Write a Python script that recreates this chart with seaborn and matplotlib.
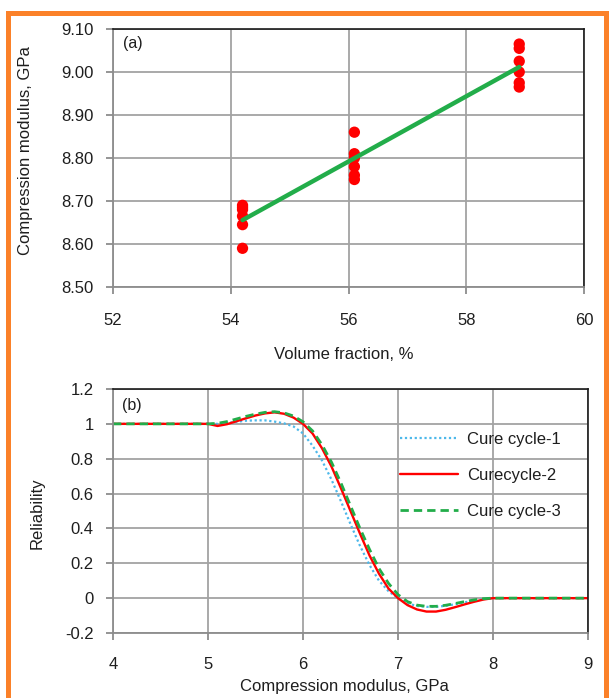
import numpy as np
import pandas as pd
import matplotlib
matplotlib.use("Agg")
import matplotlib.pyplot as plt
from matplotlib.patches import Rectangle
from matplotlib.ticker import FuncFormatter, MultipleLocator
import seaborn as sns

# ---- (a) compression modulus vs volume fraction ----
vf_levels = [54.2, 56.1, 58.9]
modulus_54 = [8.69, 8.685, 8.68, 8.665, 8.645, 8.59]
modulus_56 = [8.86, 8.81, 8.80, 8.78, 8.76, 8.75]
modulus_59 = [9.065, 9.055, 9.025, 9.0, 8.975, 8.965]

# ---- (b) reliability vs compression modulus ----
modulus_grid = [4.0, 4.5, 5.0, 5.1, 5.2, 5.3, 5.4, 5.5, 5.6, 5.7, 5.8, 5.9,
                6.0, 6.1, 6.2, 6.3, 6.4, 6.5, 6.6, 6.7, 6.8, 6.9, 7.0,
                7.1, 7.2, 7.3, 7.4, 7.5, 7.6, 7.7, 7.8, 7.9, 8.0, 8.5, 9.0]
rel_cycle1 = [1.0, 1.0, 1.0, 1.0, 1.005, 1.012, 1.018, 1.02, 1.02, 1.013, 1.003, 0.985,
              0.945, 0.875, 0.79, 0.68, 0.555, 0.425, 0.30, 0.19, 0.10, 0.04, 0.0,
              -0.03, -0.045, -0.05, -0.05, -0.044, -0.035, -0.024, -0.014, -0.005, 0.0, 0.0, 0.0]
rel_cycle2 = [1.0, 1.0, 1.0, 0.988, 0.998, 1.015, 1.032, 1.048, 1.06, 1.066, 1.058, 1.036,
              1.0, 0.945, 0.86, 0.755, 0.63, 0.50, 0.37, 0.245, 0.14, 0.055, 0.0,
              -0.04, -0.065, -0.077, -0.077, -0.067, -0.052, -0.036, -0.021, -0.008, 0.0, 0.0, 0.0]
rel_cycle3 = [1.0, 1.0, 1.0, 1.003, 1.013, 1.028, 1.043, 1.056, 1.066, 1.07, 1.063, 1.045,
              1.012, 0.96, 0.88, 0.78, 0.66, 0.53, 0.40, 0.28, 0.17, 0.085, 0.02,
              -0.02, -0.04, -0.047, -0.047, -0.041, -0.031, -0.02, -0.01, -0.003, 0.0, 0.0, 0.0]
series_labels = ["Cure cycle-1", "Curecycle-2", "Cure cycle-3"]

sns.set_theme(style="white")
plt.rcParams["font.family"] = ["Liberation Sans", "DejaVu Sans"]

TEXT = "#1e1e1e"
GRID = "#a3a3a3"
AXIS = "#8c8c8c"

fig = plt.figure(figsize=(6.09, 6.98), dpi=100)
W, H = 609, 698
ax1 = fig.add_axes([113 / W, 1 - 287 / H, 471 / W, 258 / H])
ax2 = fig.add_axes([113 / W, 1 - 633 / H, 475 / W, 244 / H])


def style_axes(ax, xpad):
    ax.set_axisbelow(True)
    ax.grid(True, color=GRID, linewidth=1.3)
    for side in ("left", "bottom"):
        ax.spines[side].set_color(AXIS)
        ax.spines[side].set_linewidth(1.3)
    for side in ("top", "right"):
        ax.spines[side].set_color("#1a1a1a")
        ax.spines[side].set_linewidth(1.2)
    ax.tick_params(axis="both", direction="out", length=5, width=1.3,
                   color=AXIS, labelsize=12, labelcolor=TEXT,
                   bottom=True, left=True)
    ax.tick_params(axis="y", pad=9)
    ax.tick_params(axis="x", pad=xpad)


# panel (a)
scatter_df = pd.DataFrame({
    "vf": [vf_levels[0]] * len(modulus_54) + [vf_levels[1]] * len(modulus_56)
          + [vf_levels[2]] * len(modulus_59),
    "modulus": modulus_54 + modulus_56 + modulus_59,
})
sns.scatterplot(data=scatter_df, x="vf", y="modulus", ax=ax1, color="#ff0000",
                s=66, edgecolor="none", zorder=3)
sns.regplot(data=scatter_df, x="vf", y="modulus", ax=ax1, scatter=False, ci=None,
            color="#22ad4a", line_kws={"linewidth": 3.2, "zorder": 4})
ax1.set_xlim(52, 60)
ax1.set_ylim(8.5, 9.1)
ax1.xaxis.set_major_locator(MultipleLocator(2))
ax1.yaxis.set_major_locator(MultipleLocator(0.1))
ax1.yaxis.set_major_formatter(FuncFormatter(lambda v, p: f"{v:.2f}"))
style_axes(ax1, 14)
ax1.set_xlabel("Volume fraction, %", fontsize=12, color=TEXT)
ax1.set_ylabel("Compression modulus, GPa", fontsize=12, color=TEXT)
ax1.xaxis.set_label_coords(0.49, -0.232)
ax1.yaxis.set_label_coords(-0.170, 0.53)
ax1.text(0.021, 0.972, "(a)", transform=ax1.transAxes, fontsize=11.5,
         color=TEXT, va="top", ha="left")

# panel (b)
sns.lineplot(x=modulus_grid, y=rel_cycle1, ax=ax2, color="#4db8ea",
             linewidth=1.6, linestyle=(0, (1, 1.2)), label=series_labels[0])
sns.lineplot(x=modulus_grid, y=rel_cycle2, ax=ax2, color="#ff0000",
             linewidth=1.7, linestyle="-", label=series_labels[1])
sns.lineplot(x=modulus_grid, y=rel_cycle3, ax=ax2, color="#22ad4a",
             linewidth=2.0, linestyle=(0, (3, 1.8)), label=series_labels[2])
ax2.set_xlim(4, 9)
ax2.set_ylim(-0.2, 1.2)
ax2.xaxis.set_major_locator(MultipleLocator(1))
ax2.yaxis.set_major_locator(MultipleLocator(0.2))
ax2.yaxis.set_major_formatter(FuncFormatter(lambda v, p: f"{round(v, 1):g}".replace("−", "-")))
ax2.xaxis.set_major_formatter(FuncFormatter(lambda v, p: f"{v:g}"))
style_axes(ax2, 12)
ax2.set_xlabel("Compression modulus, GPa", fontsize=12, color=TEXT)
ax2.set_ylabel("Reliability", fontsize=12, color=TEXT)
ax2.xaxis.set_label_coords(0.488, -0.19)
ax2.yaxis.set_label_coords(-0.143, 0.49)
ax2.text(0.019, 0.965, "(b)", transform=ax2.transAxes, fontsize=11.5,
         color=TEXT, va="top", ha="left")
leg = ax2.legend(loc="upper left", bbox_to_anchor=(0.604, 0.823), frameon=False,
                 fontsize=12, handlelength=3.5, handletextpad=0.55,
                 labelspacing=1.25, borderpad=0, borderaxespad=0)
for t in leg.get_texts():
    t.set_color(TEXT)

# orange frame around the figure
fig.patches.append(Rectangle((8 / W, -0.05), (606 - 8) / W, 1 - 12.5 / H + 0.05,
                             transform=fig.transFigure, fill=False,
                             edgecolor="#fb8129", linewidth=3.6, zorder=10))

fig.savefig("out.png", dpi=100)
